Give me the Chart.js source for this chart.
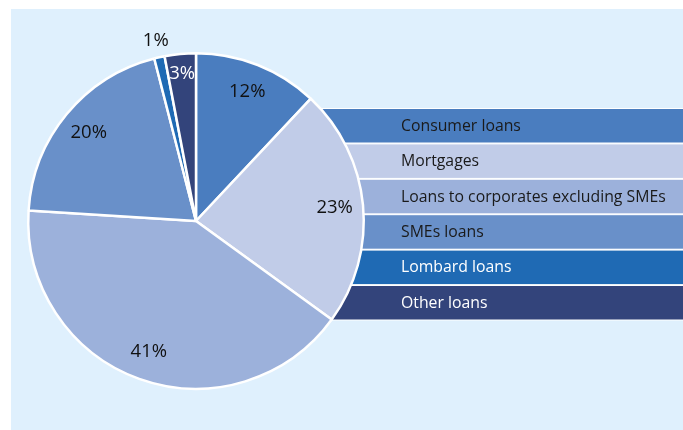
<!DOCTYPE html>
<html>
<head>
<meta charset="utf-8">
<script src="https://cdn.jsdelivr.net/npm/chart.js@4/dist/chart.umd.min.js"></script>
<style>
  html, body { margin: 0; padding: 0; background: #ffffff; }
  #wrap { position: relative; width: 683px; height: 430px; }
</style>
</head>
<body>
<div id="wrap"><canvas id="c" width="683" height="430"></canvas></div>
<script>
// ---- data ----
const categories = ["Consumer loans", "Mortgages", "Loans to corporates excluding SMEs", "SMEs loans", "Lombard loans", "Other loans"];
const shares = [12, 23, 41, 20, 1, 3];
const shareLabels = ["12%", "23%", "41%", "20%", "1%", "3%"];
const colors = ["#4a7dbf", "#c1cce8", "#9cb1db", "#6990c9", "#1f6ab4", "#33447b"];

function isDark(hex) {
  const r = parseInt(hex.substr(1, 2), 16), g = parseInt(hex.substr(3, 2), 16), b = parseInt(hex.substr(5, 2), 16);
  return (0.3 * r + 0.59 * g + 0.11 * b) < 100;
}

const bgPlugin = {
  id: 'bg',
  beforeDraw(chart) {
    const ctx = chart.ctx;
    ctx.save();
    ctx.fillStyle = '#ffffff';
    ctx.fillRect(0, 0, chart.width, chart.height);
    ctx.fillStyle = '#dff0fd';
    ctx.fillRect(11, 9, chart.width - 11, chart.height - 9);
    ctx.restore();
  }
};

const sideLegend = {
  id: 'sideLegend',
  beforeDatasetsDraw(chart) {
    const ctx = chart.ctx;
    const x0 = 300, x1 = chart.width, top = 109, pitch = 35.4, h = 33.5;
    ctx.save();
    ctx.font = '15.8px "Open Sans", sans-serif';
    ctx.textBaseline = 'middle';
    ctx.textAlign = 'left';
    categories.forEach((name, i) => {
      const y = top + i * pitch;
      ctx.fillStyle = '#ffffff';
      ctx.fillRect(x0, y - 1, x1 - x0, h + 2);
      ctx.fillStyle = colors[i];
      ctx.fillRect(x0, y, x1 - x0, h);
      ctx.fillStyle = isDark(colors[i]) ? '#ffffff' : '#1a1a1a';
      ctx.fillText(name, 401, y + h / 2 + 0.5);
    });
    ctx.restore();
  }
};

const sliceLabels = {
  id: 'sliceLabels',
  afterDatasetsDraw(chart) {
    const ctx = chart.ctx;
    const meta = chart.getDatasetMeta(0);
    ctx.save();
    ctx.font = '18.5px "Open Sans", sans-serif';
    ctx.textAlign = 'center';
    ctx.textBaseline = 'middle';
    meta.data.forEach((arc, i) => {
      const p = arc.getProps(['x', 'y', 'startAngle', 'endAngle', 'outerRadius'], true);
      const mid = (p.startAngle + p.endAngle) / 2;
      const outside = shares[i] < 2;
      const rr = p.outerRadius * (outside ? 1.1 : (shares[i] < 5 ? 0.88 : 0.83));
      const lx = p.x + Math.cos(mid) * rr;
      const ly = p.y + Math.sin(mid) * rr;
      ctx.fillStyle = (!outside && isDark(colors[i])) ? '#ffffff' : '#111111';
      ctx.fillText(shareLabels[i], lx, ly);
    });
    ctx.restore();
  }
};

new Chart(document.getElementById('c'), {
  type: 'pie',
  data: {
    labels: categories,
    datasets: [{
      data: shares,
      backgroundColor: colors,
      borderColor: '#ffffff',
      borderWidth: 2.5
    }]
  },
  options: {
    responsive: false,
    animation: false,
    layout: { padding: { left: 27, top: 52, right: 683 - 365, bottom: 430 - 390 } },
    plugins: { legend: { display: false }, tooltip: { enabled: false } }
  },
  plugins: [bgPlugin, sideLegend, sliceLabels]
});
</script>
</body>
</html>
